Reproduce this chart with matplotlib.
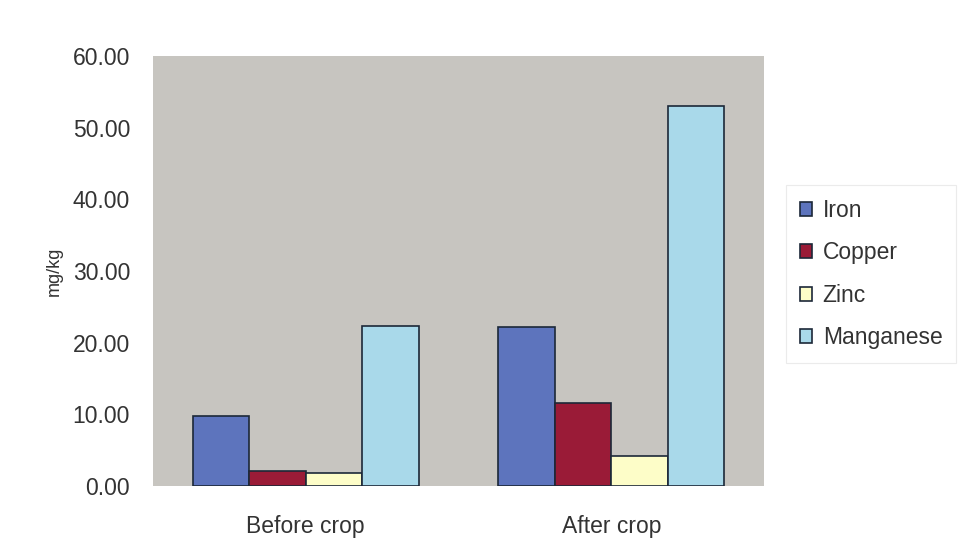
import numpy as np
import matplotlib
matplotlib.use("Agg")
import matplotlib.pyplot as plt

plt.rcParams['font.family'] = ['Liberation Sans', 'DejaVu Sans']

categories = ["Before crop", "After crop"]
elements = ["Iron", "Copper", "Zinc", "Manganese"]
iron = [9.8, 22.2]
copper = [2.1, 11.6]
zinc = [1.8, 4.2]
manganese = [22.3, 53.0]
series = [iron, copper, zinc, manganese]
colors = ["#5d74bd", "#9a1b37", "#fdfdc8", "#a9d9ea"]
yticks = [0, 10, 20, 30, 40, 50, 60]

fig = plt.figure(figsize=(9.58, 5.39), dpi=100)
fig.set_facecolor('white')
ax = fig.add_axes([0.1597, 0.0983, 0.6378, 0.7978])
ax.set_facecolor('#c7c5c0')

x = np.arange(len(categories)) + 0.5
w = 0.185
for i, (name, vals) in enumerate(zip(elements, series)):
    ax.bar(x + (i - 1.5) * w, vals, w, color=colors[i], edgecolor='#1c2838',
           linewidth=1.2, label=name)

ax.set_xlim(0, 2)
ax.set_ylim(0, 60)
ax.set_yticks(yticks)
ax.set_yticklabels([f"{t:.2f}" for t in yticks])
ax.set_xticks(x)
ax.set_xticklabels(categories)
ax.tick_params(axis='both', length=0, labelsize=16.5, colors='#333333')
ax.tick_params(axis='y', pad=16.5)
ax.tick_params(axis='x', pad=21)
for s in ax.spines.values():
    s.set_visible(False)

ax.set_ylabel('mg/kg', fontsize=13, color='#333333', labelpad=7)

leg = ax.legend(loc='upper left', bbox_to_anchor=(1.036, 0.70), fontsize=16.5,
                frameon=True, fancybox=False, handlelength=0.55, handleheight=0.55,
                handletextpad=0.45, labelspacing=0.85, borderpad=0.6,
                borderaxespad=0)
leg.get_frame().set_edgecolor('#e6e6e6')
leg.get_frame().set_linewidth(0.8)
for t in leg.get_texts():
    t.set_color('#333333')

fig.savefig('out.png', dpi=100)
